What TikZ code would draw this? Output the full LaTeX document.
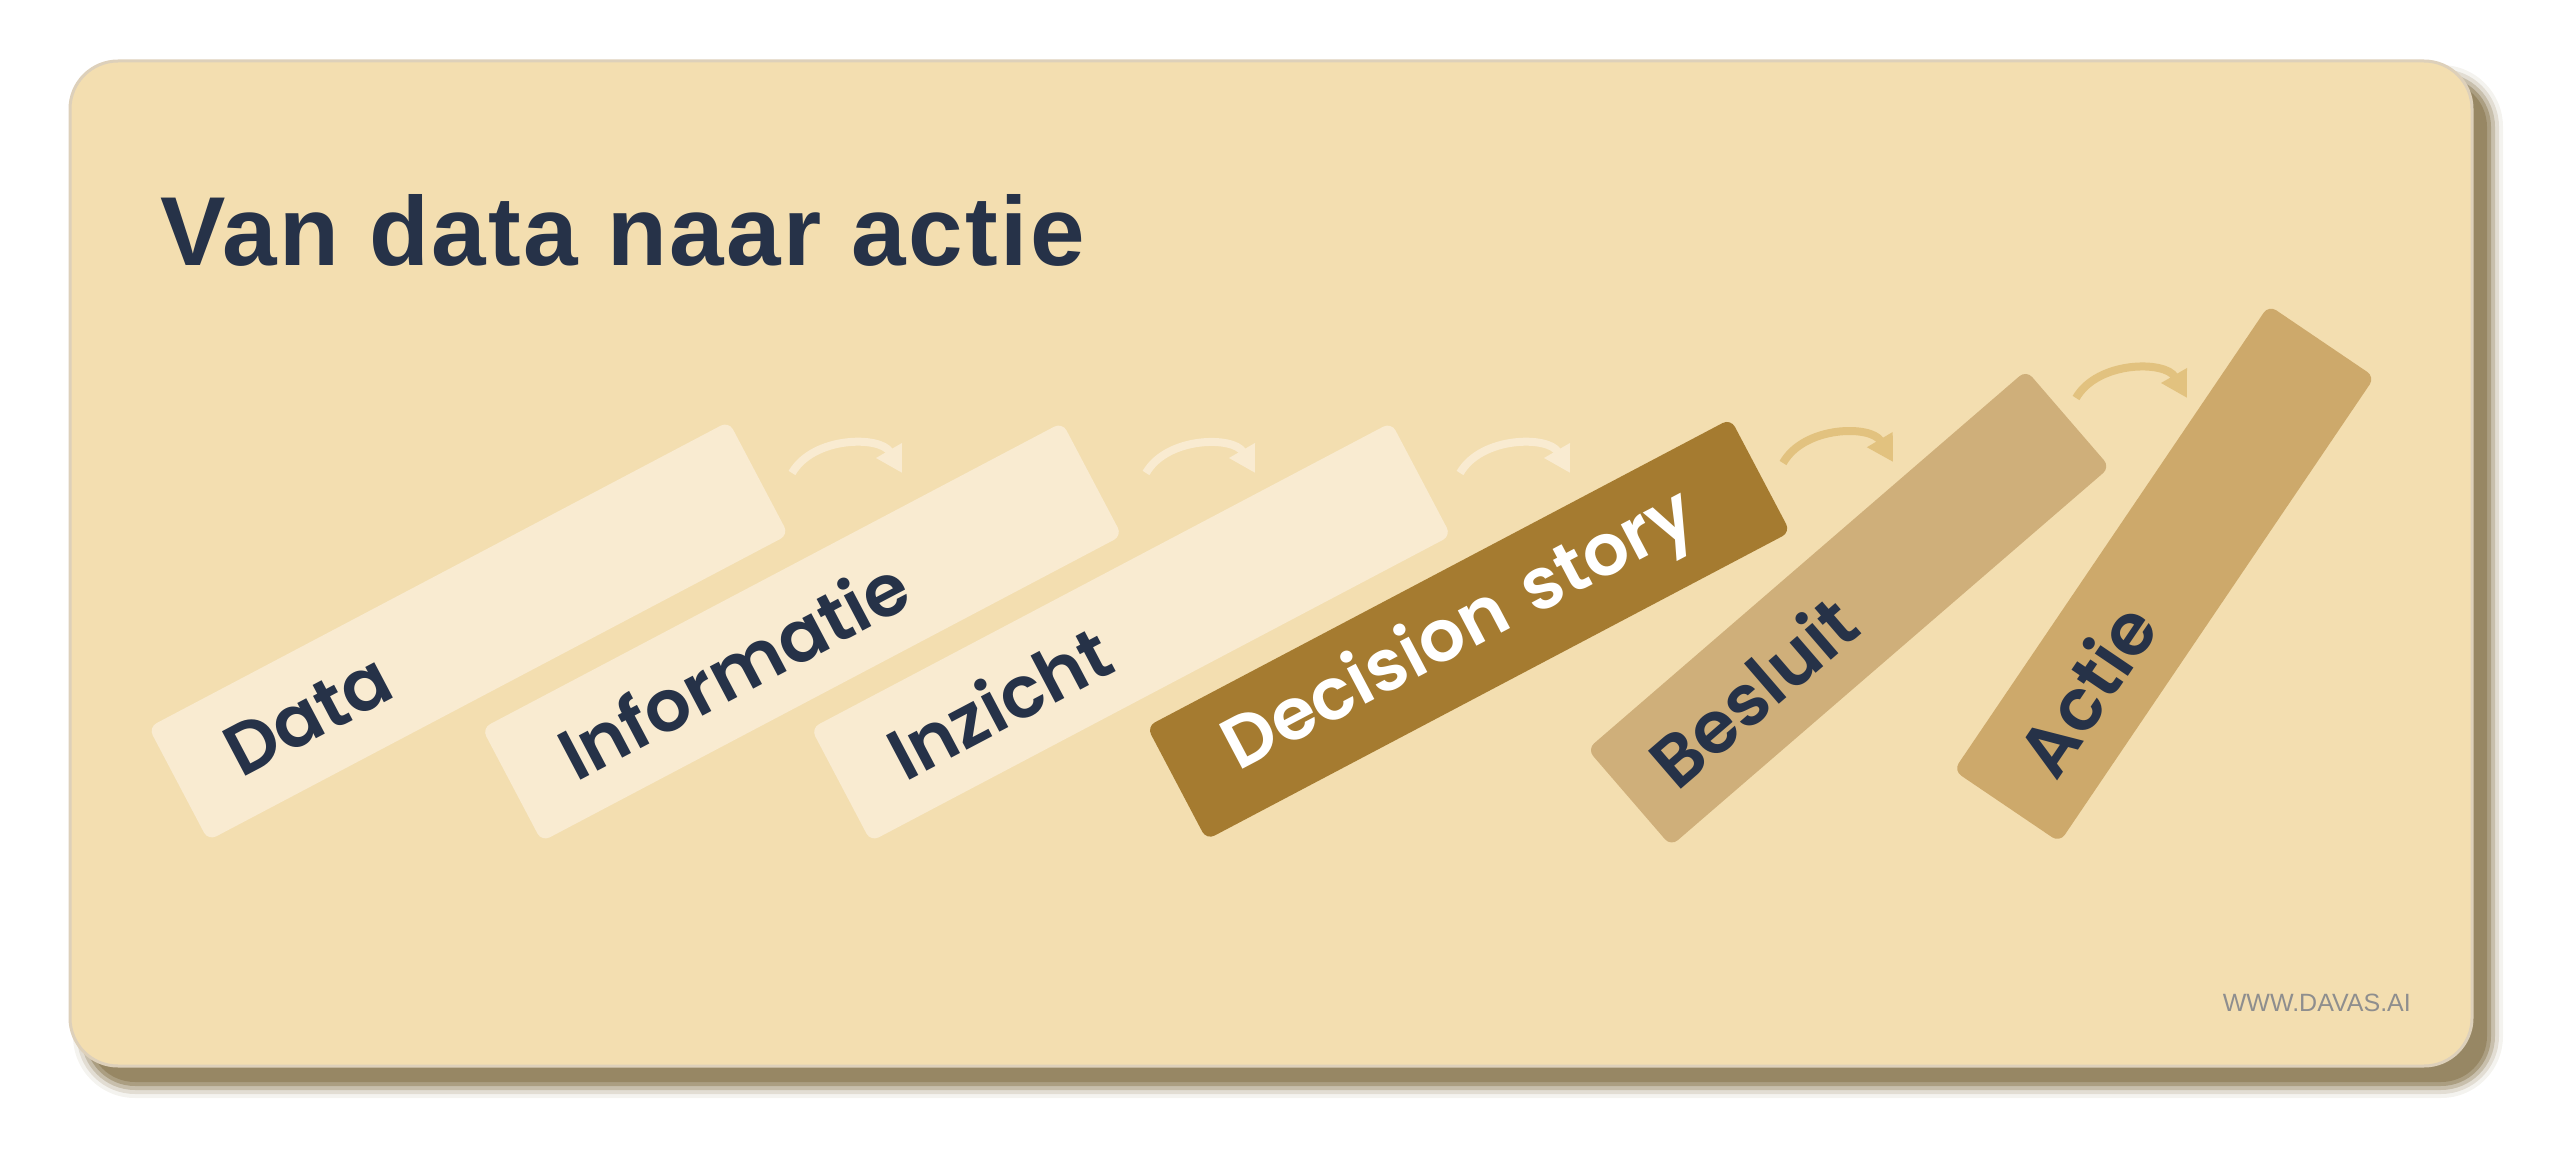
\documentclass[tikz,border=0pt]{standalone}
\usepackage{fontspec}
\setmainfont{Liberation Sans}
\newfontfamily\titelfont{Liberation Sans}[LetterSpace=2.5]
\newfontfamily\balkfont{Poppins}[BoldFont={Poppins SemiBold}]
\usetikzlibrary{arrows.meta}
\definecolor{fond}{HTML}{F3DEB0}
\definecolor{rand}{HTML}{DDD0BA}
\definecolor{schaduw}{HTML}{978764}
\definecolor{donker}{HTML}{263248}
\definecolor{licht}{HTML}{F9EBD1}
\definecolor{bruin}{HTML}{A57B30}
\definecolor{besluit}{HTML}{CFAF7A}
\definecolor{actie}{HTML}{CDA96B}
\definecolor{goud}{HTML}{E2C27F}
\definecolor{grijs}{HTML}{8E8E8E}

\begin{document}
\begin{tikzpicture}[x=1pt,y=-1pt]
\tikzset{balk/.style={rounded corners=9pt, minimum height=128pt, inner ysep=0pt, align=left, text=donker, font=\balkfont\bfseries\fontsize{72}{80}\selectfont},
pijl/.style={line width=8pt, -{Triangle[length=26pt,width=28pt]}}}
\useasboundingbox (0,0) rectangle (2560,1158);
\foreach \e/\o in {14/0.1, 10/0.2, 6/0.35, 2/0.6, -2/1}
  \fill[schaduw, opacity=\o, rounded corners=48pt+\e pt, shift={(17,18)}] (70-\e,61-\e) rectangle (2472+\e,1066+\e);
\fill[fond, draw=rand, line width=3pt, rounded corners=48pt] (70,61) rectangle (2472,1066);
\node[anchor=base west, inner sep=0pt, text=donker, font=\titelfont\bfseries\fontsize{98}{110}\selectfont] (T) at (160,266) {Van data naar actie};
\node[balk, fill=licht, rotate=27.8, minimum width=656pt, text width=540pt, inner xsep=58pt] (B1) at (468.5,631) {Data};
\node[balk, fill=licht, rotate=27.8, minimum width=656pt, text width=540pt, inner xsep=58pt] (B2) at (802,632) {Informatie};
\node[balk, fill=licht, rotate=27.8, minimum width=656pt, text width=540pt, inner xsep=58pt] (B3) at (1131,632) {Inzicht};
\node[balk, fill=bruin, text=white, rotate=27.8, minimum width=656pt, text width=540pt, inner xsep=60pt] (B4) at (1468.6,629.3) {Decision story};
\node[balk, fill=besluit, rotate=40.8, minimum width=580pt, text width=500pt, inner xsep=40pt] (B5) at (1848.6,608.2) {Besluit};
\node[balk, fill=actie, rotate=55.9, minimum width=562pt, text width=466pt, inner xsep=48pt] (B6) at (2164.2,573.8) {Actie};
\coordinate (P1) at (792,473);
\coordinate (Q1) at (902,473);
\coordinate (P2) at (1146,473);
\coordinate (Q2) at (1255,473);
\coordinate (P3) at (1460,473);
\coordinate (Q3) at (1570,473);
\coordinate (P4) at (1783,463);
\coordinate (Q4) at (1893,462);
\coordinate (P5) at (2076,398);
\coordinate (Q5) at (2187,398);
\draw[pijl, licht] (P1) to[bend left=60] (Q1);
\draw[pijl, licht] (P2) to[bend left=60] (Q2);
\draw[pijl, licht] (P3) to[bend left=60] (Q3);
\draw[pijl, goud] (P4) to[bend left=60] (Q4);
\draw[pijl, goud] (P5) to[bend left=60] (Q5);
\node[anchor=base east, inner sep=0pt, text=grijs, font=\fontsize{25}{30}\selectfont] (W) at (2411,1011) {WWW.DAVAS.AI};
\end{tikzpicture}
\end{document}
